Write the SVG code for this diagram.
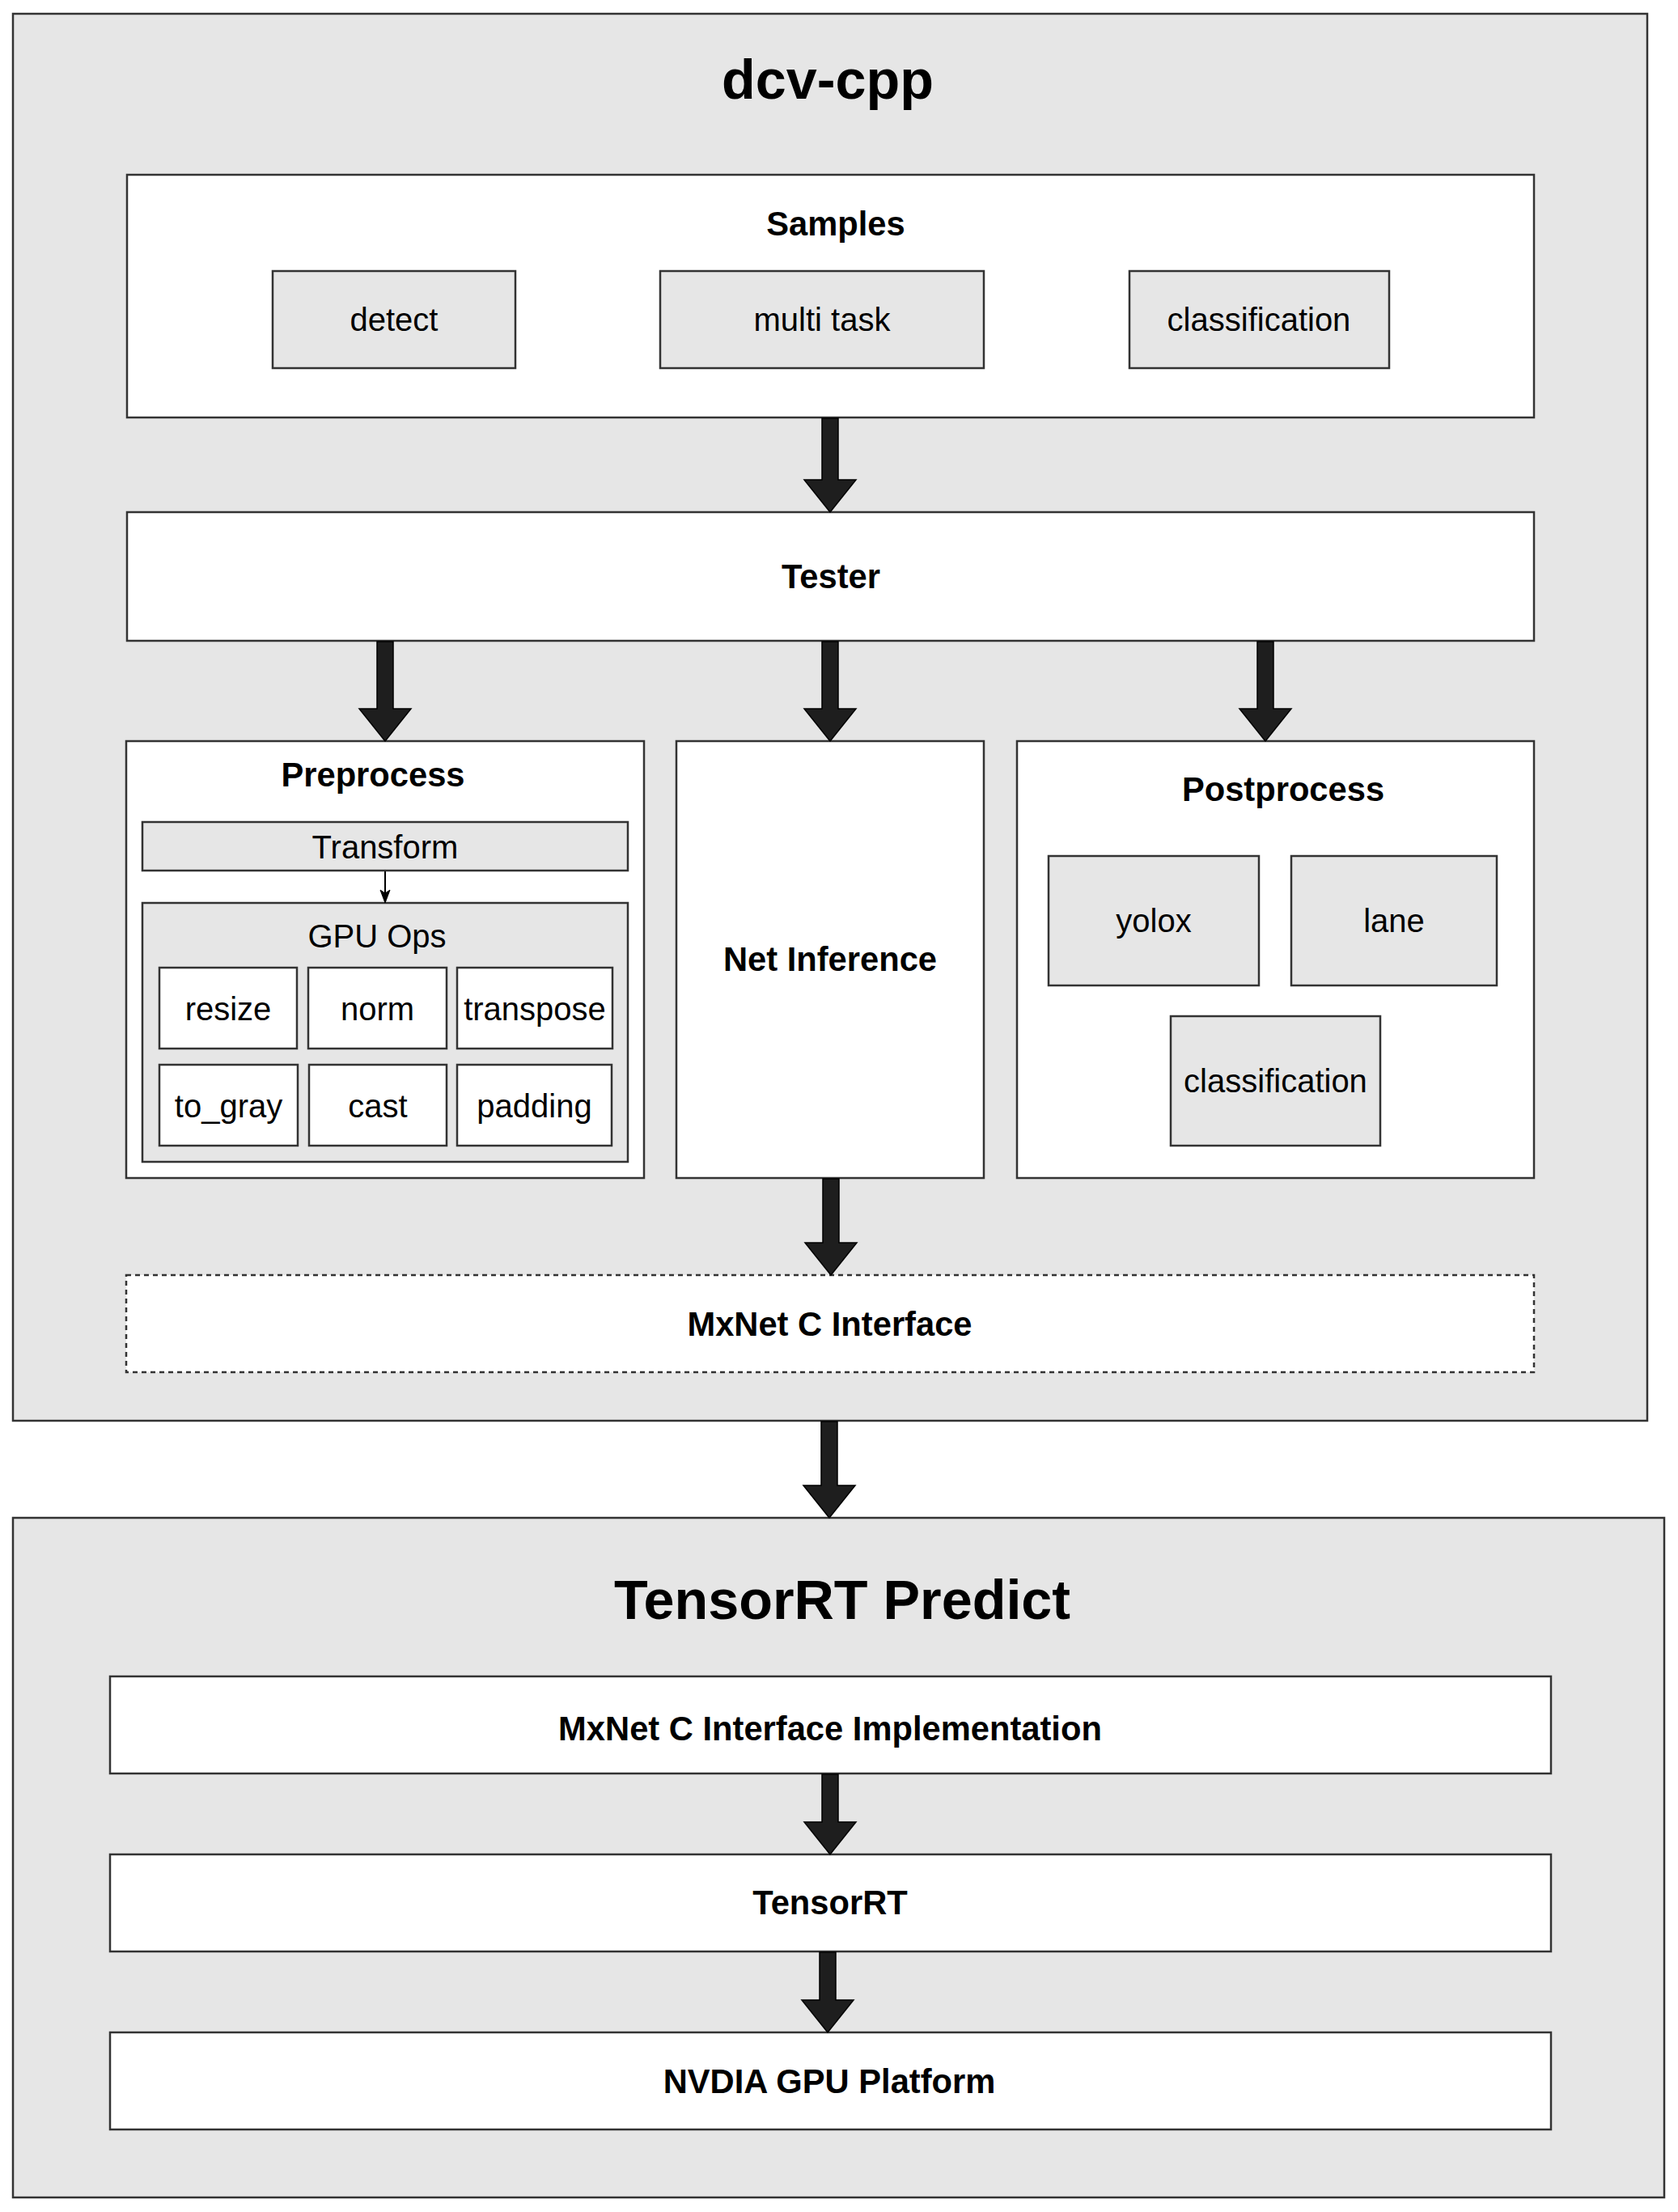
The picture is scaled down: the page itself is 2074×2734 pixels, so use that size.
<svg xmlns="http://www.w3.org/2000/svg" width="2074" height="2734" viewBox="0 0 2074 2734">
<style>
.bg{fill:#e6e6e6;stroke:#333;stroke-width:2.5}
.wb{fill:#ffffff;stroke:#333;stroke-width:2.5}
.gb{fill:#e6e6e6;stroke:#333;stroke-width:2.5}
.dash{fill:#ffffff;stroke:#333;stroke-width:2.5;stroke-dasharray:6 5}
.arr{fill:#1e1e1e;stroke:#000;stroke-width:1.5;stroke-linejoin:miter}
text{font-family:"Liberation Sans",Arial,sans-serif;fill:#000;text-anchor:middle}
.t{font-size:68.3px;font-weight:bold}
.b{font-size:41.7px;font-weight:bold}
.n{font-size:40px}
</style>
<rect width="2074" height="2734" fill="#ffffff"/>

<g id="dcv-cpp">
<rect class="bg" x="16" y="17" width="2020" height="1739"/>
<text class="t" x="1023" y="122">dcv-cpp</text>
</g>

<g id="samples">
<rect class="wb" x="157" y="216" width="1739" height="300"/>
<text class="b" x="1033" y="291">Samples</text>
</g>
<g id="detect"><rect class="gb" x="337" y="335" width="300" height="120"/><text class="n" x="487" y="409">detect</text></g>
<g id="multitask"><rect class="gb" x="816" y="335" width="400" height="120"/><text class="n" x="1016" y="409">multi task</text></g>
<g id="classification-s"><rect class="gb" x="1396" y="335" width="321" height="120"/><text class="n" x="1556" y="409">classification</text></g>

<g id="tester"><rect class="wb" x="157" y="633" width="1739" height="159"/><text class="b" x="1027" y="727">Tester</text></g>

<g id="preprocess">
<rect class="wb" x="156" y="916" width="640" height="540"/>
<text class="b" x="461" y="972">Preprocess</text>
</g>
<g id="transform"><rect class="gb" x="176" y="1016" width="600" height="60"/><text class="n" x="476" y="1061">Transform</text></g>
<g id="gpuops">
<rect class="gb" x="176" y="1116" width="600" height="320"/>
<text class="n" x="466" y="1171">GPU Ops</text>
</g>
<g id="resize"><rect class="wb" x="197" y="1196" width="170" height="100"/><text class="n" x="282" y="1261">resize</text></g>
<g id="norm"><rect class="wb" x="381" y="1196" width="171" height="100"/><text class="n" x="466.5" y="1261">norm</text></g>
<g id="transpose"><rect class="wb" x="565" y="1196" width="192" height="100"/><text class="n" x="661" y="1261">transpose</text></g>
<g id="to_gray"><rect class="wb" x="197" y="1316" width="171" height="100"/><text class="n" x="282.5" y="1381">to_gray</text></g>
<g id="cast"><rect class="wb" x="382" y="1316" width="170" height="100"/><text class="n" x="467" y="1381">cast</text></g>
<g id="padding"><rect class="wb" x="565" y="1316" width="191" height="100"/><text class="n" x="660.5" y="1381">padding</text></g>

<g id="netinference"><rect class="wb" x="836" y="916" width="380" height="540"/><text class="b" x="1026" y="1200">Net Inference</text></g>

<g id="postprocess">
<rect class="wb" x="1257" y="916" width="639" height="540"/>
<text class="b" x="1586" y="990">Postprocess</text>
</g>
<g id="yolox"><rect class="gb" x="1296" y="1058" width="260" height="160"/><text class="n" x="1426" y="1152">yolox</text></g>
<g id="lane"><rect class="gb" x="1596" y="1058" width="254" height="160"/><text class="n" x="1723" y="1152">lane</text></g>
<g id="classification-p"><rect class="gb" x="1447" y="1256" width="259" height="160"/><text class="n" x="1576.5" y="1350">classification</text></g>

<g id="mxnet-c-interface"><rect class="dash" x="156" y="1576" width="1740" height="120"/><text class="b" x="1025.5" y="1651">MxNet C Interface</text></g>

<g id="tensorrt-predict">
<rect class="bg" x="16" y="1876" width="2041" height="840"/>
<text class="t" x="1041" y="2001">TensorRT Predict</text>
</g>
<g id="mxnet-impl"><rect class="wb" x="136" y="2072" width="1781" height="120"/><text class="b" x="1026" y="2151">MxNet C Interface Implementation</text></g>
<g id="tensorrt"><rect class="wb" x="136" y="2292" width="1781" height="120"/><text class="b" x="1026" y="2366">TensorRT</text></g>
<g id="nvdia"><rect class="wb" x="136" y="2512" width="1781" height="120"/><text class="b" x="1025" y="2587">NVDIA GPU Platform</text></g>

<g id="connectors">
<path class="arr" d="M1016,517 L1036,517 L1036,593 L1058,593 L1026,633 L994,593 L1016,593 Z"/>
<path class="arr" d="M466,793 L486,793 L486,876 L508,876 L476,916 L444,876 L466,876 Z"/>
<path class="arr" d="M1016,793 L1036,793 L1036,876 L1058,876 L1026,916 L994,876 L1016,876 Z"/>
<path class="arr" d="M1554,793 L1574,793 L1574,876 L1596,876 L1564,916 L1532,876 L1554,876 Z"/>
<path class="arr" d="M1017,1457 L1037,1457 L1037,1536 L1059,1536 L1027,1576 L995,1536 L1017,1536 Z"/>
<path class="arr" d="M1015,1757 L1035,1757 L1035,1836 L1057,1836 L1025,1876 L993,1836 L1015,1836 Z"/>
<path class="arr" d="M1016,2193 L1036,2193 L1036,2252 L1058,2252 L1026,2292 L994,2252 L1016,2252 Z"/>
<path class="arr" d="M1013,2413 L1033,2413 L1033,2472 L1055,2472 L1023,2512 L991,2472 L1013,2472 Z"/>
<line x1="476" y1="1077" x2="476" y2="1104" stroke="#000" stroke-width="2"/>
<path d="M470,1100 L476,1104 L482,1100 L476,1116 Z" fill="#000" stroke="#000" stroke-width="1"/>
</g>
</svg>
